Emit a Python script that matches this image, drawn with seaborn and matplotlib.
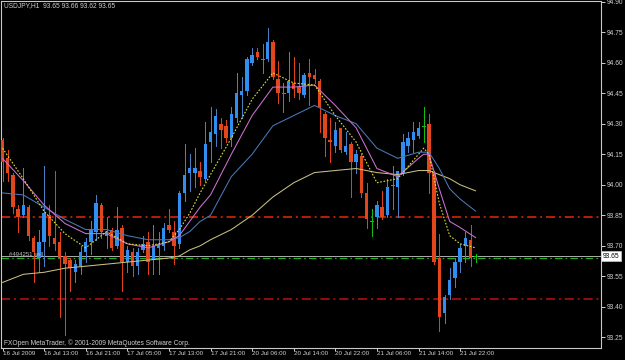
import matplotlib
matplotlib.use("Agg")
import matplotlib.pyplot as plt
import matplotlib.transforms as mtrans
import seaborn as sns
import pandas as pd
import numpy as np

# ---- data (USDJPY H1 candles) ----
opens = [94.22, 94.13, 94.05, 93.88, 93.85, 93.89, 93.74, 93.64, 93.72, 93.85,
         93.74, 93.72, 93.65, 93.63, 93.57, 93.60, 93.67, 93.72, 93.77, 93.90,
         93.75, 93.78, 93.70, 93.79, 93.62, 93.67, 93.60, 93.68, 93.72, 93.63,
         93.69, 93.70, 93.80, 93.77, 93.71, 93.96, 94.06, 94.06, 94.07, 94.03,
         94.21, 94.25, 94.30, 94.29, 94.23, 94.33, 94.44, 94.46, 94.60, 94.65,
         94.62, 94.62, 94.70, 94.52, 94.45, 94.45, 94.50, 94.48, 94.44, 94.55,
         94.54, 94.51, 94.35, 94.22, 94.19, 94.28, 94.16, 94.20, 94.11, 94.14,
         93.96, 93.82, 93.84, 93.89, 93.85, 94.00, 93.99, 94.06, 94.19, 94.22,
         94.24, 94.29, 94.30, 94.06, 93.64, 93.37, 93.46, 93.54, 93.62, 93.70,
         93.73, 93.65]
highs = [94.23, 94.17, 94.06, 93.90, 94.08, 93.90, 93.75, 93.78, 94.09, 93.90,
         94.07, 93.77, 93.67, 93.64, 93.63, 93.70, 93.74, 93.82, 93.95, 93.91,
         93.84, 93.79, 93.89, 93.80, 93.70, 93.69, 93.69, 93.75, 93.77, 93.80,
         93.77, 93.81, 93.88, 93.82, 93.97, 94.20, 94.15, 94.18, 94.11, 94.31,
         94.38, 94.37, 94.33, 94.32, 94.38, 94.55, 94.53, 94.63, 94.67, 94.67,
         94.69, 94.77, 94.71, 94.61, 94.50, 94.65, 94.63, 94.60, 94.55, 94.62,
         94.57, 94.52, 94.36, 94.33, 94.31, 94.28, 94.26, 94.21, 94.17, 94.15,
         94.01, 93.88, 93.92, 93.97, 94.03, 94.09, 94.07, 94.25, 94.26, 94.31,
         94.31, 94.38, 94.35, 94.07, 93.76, 93.46, 93.59, 93.64, 93.71, 93.77,
         93.80, 93.66]
lows = [94.02, 94.02, 93.86, 93.77, 93.84, 93.73, 93.52, 93.57, 93.60, 93.70,
        93.68, 93.35, 93.26, 93.48, 93.52, 93.56, 93.62, 93.66, 93.73, 93.74,
        93.69, 93.68, 93.69, 93.48, 93.57, 93.55, 93.56, 93.67, 93.56, 93.56,
        93.56, 93.68, 93.77, 93.61, 93.69, 93.92, 93.97, 93.99, 94.00, 94.02,
        94.11, 94.19, 94.18, 94.21, 94.19, 94.31, 94.33, 94.44, 94.59, 94.62,
        94.55, 94.61, 94.52, 94.40, 94.36, 94.41, 94.43, 94.42, 94.43, 94.39,
        94.50, 94.26, 94.14, 94.11, 94.16, 94.16, 94.15, 93.94, 94.06, 93.94,
        93.79, 93.75, 93.79, 93.83, 93.84, 93.88, 93.84, 94.05, 94.16, 94.16,
        94.23, 94.21, 93.96, 93.61, 93.28, 93.32, 93.44, 93.50, 93.57, 93.62,
        93.60, 93.62]
closes = [94.11, 94.06, 93.89, 93.84, 93.90, 93.75, 93.67, 93.72, 93.86, 93.75,
          93.71, 93.64, 93.61, 93.59, 93.61, 93.67, 93.72, 93.78, 93.91, 93.77,
          93.77, 93.69, 93.78, 93.62, 93.68, 93.60, 93.67, 93.71, 93.62, 93.70,
          93.71, 93.79, 93.78, 93.70, 93.96, 94.05, 94.08, 94.08, 94.04, 94.20,
          94.26, 94.34, 94.27, 94.23, 94.35, 94.45, 94.46, 94.62, 94.64, 94.63,
          94.62, 94.70, 94.53, 94.45, 94.45, 94.51, 94.47, 94.45, 94.54, 94.53,
          94.52, 94.38, 94.23, 94.21, 94.27, 94.17, 94.19, 94.11, 94.15, 93.96,
          93.83, 93.82, 93.90, 93.84, 93.99, 94.00, 94.07, 94.21, 94.23, 94.26,
          94.28, 94.29, 94.06, 93.62, 93.35, 93.45, 93.53, 93.62, 93.69, 93.74,
          93.64, 93.65]

# moving averages, sampled at these bars
ma_bars = [0, 4, 8, 12, 16, 20, 24, 28, 32, 34, 36, 38, 40, 44, 48, 52, 56, 60,
           64, 68, 72, 76, 80, 81, 82, 84, 86, 88, 91]
ma_fast = [94.18, 94.03, 93.87, 93.76, 93.69, 93.77, 93.71, 93.70, 93.72, 93.78,
           93.86, 93.96, 94.05, 94.23, 94.42, 94.55, 94.50, 94.49, 94.34, 94.21,
           94.01, 94.03, 94.15, 94.18, 94.15, 93.91, 93.75, 93.71, 93.69]
ma_mid = [94.13, 94.02, 93.90, 93.81, 93.76, 93.76, 93.71, 93.69, 93.72, 93.75,
          93.82, 93.89, 93.95, 94.15, 94.34, 94.48, 94.48, 94.49, 94.39, 94.28,
          94.08, 94.04, 94.13, 94.15, 94.15, 93.98, 93.82, 93.79, 93.74]
ma_slow = [93.96, 93.95, 93.89, 93.83, 93.78, 93.78, 93.75, 93.73, 93.73, 93.74,
           93.77, 93.82, 93.85, 94.04, 94.15, 94.29, 94.34, 94.39, 94.34, 94.30,
           94.18, 94.13, 94.16, 94.16, 94.16, 94.08, 93.98, 93.93, 93.87]
ma_long = [93.52, 93.56, 93.57, 93.59, 93.60, 93.61, 93.62, 93.63, 93.64, 93.65,
           93.68, 93.70, 93.73, 93.78, 93.85, 93.94, 94.01, 94.06, 94.07, 94.08,
           94.06, 94.05, 94.07, 94.07, 94.07, 94.05, 94.03, 94.00, 93.97]

tick_bars = [0, 8, 16, 24, 32, 40, 48, 56, 64, 72, 80, 88]
tick_labels = ["16 Jul 2009", "16 Jul 13:00", "16 Jul 21:00", "17 Jul 05:00",
               "17 Jul 13:00", "17 Jul 21:00", "20 Jul 06:00", "20 Jul 14:00",
               "20 Jul 22:00", "21 Jul 06:00", "21 Jul 14:00", "21 Jul 22:00"]
price_ticks = [93.25, 93.40, 93.55, 93.70, 93.85, 94.00, 94.15, 94.30, 94.45,
               94.60, 94.75, 94.90]

level_upper = 93.84
level_lower = 93.44
bid_price = 93.65
order_price = 93.64
title_text = "USDJPY,H1  93.65 93.66 93.62 93.65"
order_text = "#494251 sell"
footer_text = "FXOpen MetaTrader, \u00a9 2001-2009 MetaQuotes Software Corp."

# ---- style ----
sns.set_theme(style="dark", rc={"axes.facecolor": "black", "figure.facecolor": "black"})
plt.rcParams["font.family"] = ["Liberation Sans", "DejaVu Sans"]
FG = "#d0d0d0"
FS = 4.8

fig = plt.figure(figsize=(6.25, 3.6), dpi=100)
ax = fig.add_axes([1 / 625, 12 / 360, 599.5 / 625, 347 / 360])
ax.set_facecolor("black")
ax.grid(False)

df = pd.DataFrame({"bar": np.arange(len(opens)), "open": opens, "high": highs,
                   "low": lows, "close": closes})
bull = df[df.close > df.open]
bear = df[df.close < df.open]
doji = df[df.close == df.open]

W = 0.68
ax.vlines(bull.bar, bull.low, bull.high, color="#4a7fc0", lw=0.72, antialiased=False, zorder=2)
ax.bar(bull.bar, bull.close - bull.open, bottom=bull.open, width=W,
       color="#2f8ef0", linewidth=0, antialiased=False, zorder=3)
ax.vlines(bear.bar, bear.low, bear.high, color="#e0401a", lw=0.72, antialiased=False, zorder=2)
ax.bar(bear.bar, bear.open - bear.close, bottom=bear.close, width=W,
       color="#e2461c", linewidth=0, antialiased=False, zorder=3)
ax.vlines(doji.bar, doji.low, doji.high, color="#10c010", lw=0.72, antialiased=False, zorder=3)
ax.hlines(doji.open, doji.bar - W / 2, doji.bar + W / 2, color="#10c010", lw=0.72,
          antialiased=False, zorder=3)

# horizontal levels
dd = (0, (6, 2.5, 1.3, 2.5))
ax.axhline(level_upper, color="#e82808", lw=1.1, ls=dd, zorder=1)
ax.axhline(level_lower, color="#c01010", lw=1.1, ls=dd, zorder=1)
ax.axhline(bid_price, color="#a8a8a8", lw=0.72, zorder=1)
ax.axhline(order_price, color="#20b020", lw=0.9, ls=dd, zorder=1)

# moving averages
ma = pd.DataFrame({"bar": ma_bars, "fast": ma_fast, "mid": ma_mid,
                   "slow": ma_slow, "long": ma_long})
sns.lineplot(data=ma, x="bar", y="long", ax=ax, color="#c8c080", lw=0.75, zorder=4)
sns.lineplot(data=ma, x="bar", y="slow", ax=ax, color="#4a78b8", lw=0.75, zorder=4)
sns.lineplot(data=ma, x="bar", y="mid", ax=ax, color="#d070d0", lw=0.75, zorder=5)
sns.lineplot(data=ma, x="bar", y="fast", ax=ax, color="#e0e030", lw=0.8,
             linestyle=(0, (1.5, 1.5)), zorder=6)

# axes limits and ticks
ax.set_xlim(-0.29, 115.0)
ax.set_ylim(93.198, 94.903)
ax.set_xlabel("")
ax.set_ylabel("")
ax.yaxis.tick_right()
ax.set_yticks(price_ticks)
ax.set_yticklabels([f"{p:.2f}" for p in price_ticks])
ax.set_xticks(tick_bars)
ax.set_xticklabels(tick_labels, ha="left")
ax.tick_params(axis="y", direction="out", length=3, width=0.7, colors=FG,
               labelsize=FS, pad=1.5, right=True, left=False)
ax.tick_params(axis="x", direction="out", length=2, width=0.7, colors=FG,
               labelsize=4.5, pad=0.3, bottom=True)
for s in ax.spines.values():
    s.set_color("#c8c8c8")
    s.set_linewidth(0.8)

# texts
ax.text(3 / 599.5, 1 - 5 / 347, title_text, transform=ax.transAxes,
        ha="left", va="center", color=FG, fontsize=FS)
ax.text(3 / 599.5, 5 / 347, footer_text, transform=ax.transAxes,
        ha="left", va="center", color=FG, fontsize=FS)
ax.text(1.2, 93.657, order_text, ha="left", va="center", color="#b8b8b8", fontsize=4.3)
bt = mtrans.blended_transform_factory(ax.transAxes, ax.transData)
ax.text(1.004, bid_price, f"{bid_price:.2f}", transform=bt, ha="left", va="center",
        color="black", fontsize=FS, clip_on=False,
        bbox=dict(facecolor="white", edgecolor="#c8c8c8", boxstyle="square,pad=0.25", lw=0.5))

fig.savefig("out.png", dpi=100, facecolor="black")
